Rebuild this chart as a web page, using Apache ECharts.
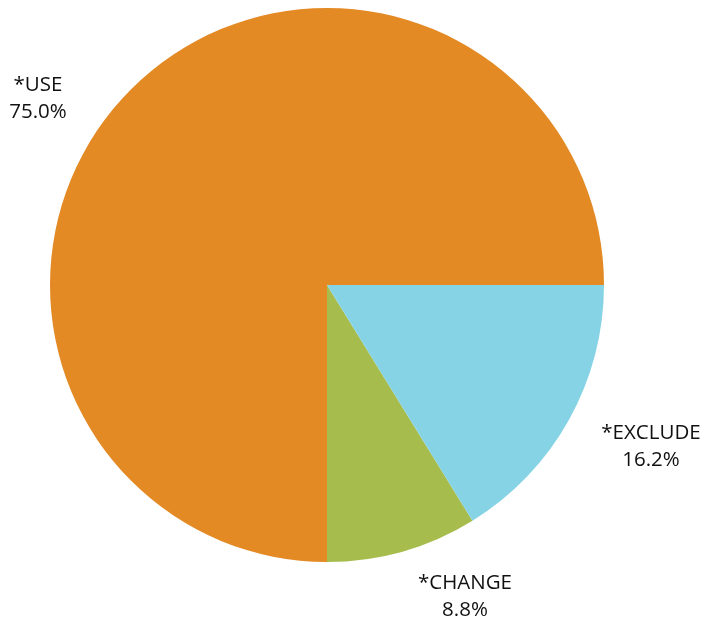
<!DOCTYPE html>
<html>
<head>
<meta charset="utf-8">
<script src="https://cdn.jsdelivr.net/npm/echarts@6/dist/echarts.min.js"></script>
<style>html,body{margin:0;padding:0;background:#fff}#c{width:704px;height:625px}</style>
</head>
<body>
<div id="c"></div>
<script>
const categories = ['*USE', '*CHANGE', '*EXCLUDE'];
const values = [75.0, 8.8, 16.2];
const colors = ['#E38A25', '#A6BD4D', '#87D3E6'];
const labelPos = [[38, 99], [465, 597], [651, 447]];

const chart = echarts.init(document.getElementById('c'), null, {renderer: 'canvas'});
chart.setOption({
  animation: false,
  series: [{
    type: 'pie',
    center: [327, 285],
    radius: [0, 277],
    startAngle: 0,
    clockwise: false,
    avoidLabelOverlap: false,
    data: categories.map((c, i) => ({name: c, value: values[i], itemStyle: {color: colors[i]}})),
    label: {
      show: true,
      position: 'outside',
      formatter: p => p.name + '\n' + p.value.toFixed(1) + '%',
      fontFamily: 'Open Sans',
      fontSize: 20.5,
      lineHeight: 27,
      color: '#111',
      align: 'center'
    },
    labelLine: {show: false},
    labelLayout: p => ({x: labelPos[p.dataIndex][0], y: labelPos[p.dataIndex][1], align: 'center', verticalAlign: 'middle'})
  }]
});
</script>
</body>
</html>
